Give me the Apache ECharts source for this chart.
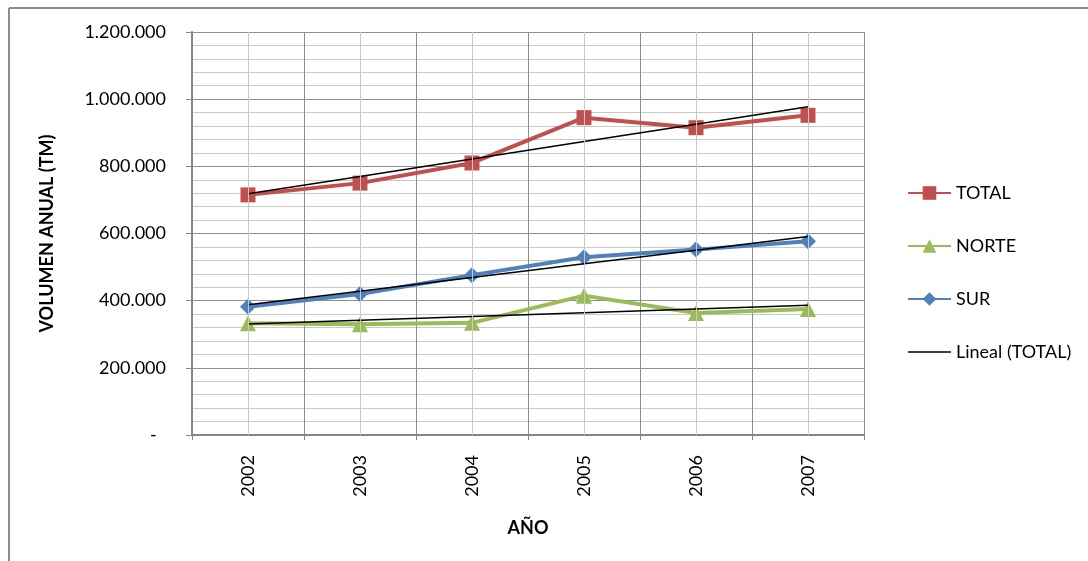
<!DOCTYPE html>
<html>
<head>
<meta charset="utf-8">
<script src="https://cdn.jsdelivr.net/npm/echarts@6/dist/echarts.min.js"></script>
<style>
  html, body { margin: 0; padding: 0; background: #ffffff; }
  #chart { width: 1088px; height: 561px; }
</style>
</head>
<body>
<div id="chart"></div>
<script>
// Volumen anual por zona (toneladas métricas)
const years = ['2002', '2003', '2004', '2005', '2006', '2007'];
const total = [715000, 750000, 810000, 945000, 915000, 952000];
const norte = [333000, 330000, 334000, 415000, 363000, 375000];
const sur   = [382000, 420000, 476000, 529000, 552000, 577000];
const yTicks = [0, 200000, 400000, 600000, 800000, 1000000, 1200000];

const FONT = 'Lato, "Liberation Sans", Arial, sans-serif';
const C_TOTAL = '#C0504D';
const C_NORTE = '#9BBB59';
const C_SUR = '#4F81BD';
const GRID_MAJOR = '#8e8e8e';
const GRID_MINOR = '#c9c9c9';

// Least-squares linear trend evaluated at every category
function linearTrend(values) {
  const n = values.length;
  const xs = values.map((_, i) => i + 1);
  const mx = xs.reduce((a, b) => a + b, 0) / n;
  const my = values.reduce((a, b) => a + b, 0) / n;
  let sxy = 0, sxx = 0;
  for (let i = 0; i < n; i++) {
    sxy += (xs[i] - mx) * (values[i] - my);
    sxx += (xs[i] - mx) * (xs[i] - mx);
  }
  const b = sxy / sxx;
  const a = my - b * mx;
  return xs.map(x => a + b * x);
}

function fmtMiles(v) {
  if (v === 0) return '-  ';
  return String(Math.round(v)).replace(/\B(?=(\d{3})+(?!\d))/g, '.');
}

const chart = echarts.init(document.getElementById('chart'), null, { renderer: 'canvas' });

const trendStyle = { color: '#000000', width: 1.5 };

chart.setOption({
  animation: false,
  backgroundColor: '#ffffff',
  textStyle: { fontFamily: FONT, color: '#000000' },
  grid: { left: 192, right: 224, top: 32, bottom: 126, containLabel: false },
  graphic: [
    { type: 'line', shape: { x1: 9, y1: 8, x2: 1088, y2: 8 }, style: { stroke: '#8c8c8c', lineWidth: 2 }, silent: true },
    { type: 'line', shape: { x1: 9, y1: 8, x2: 9, y2: 561 }, style: { stroke: '#8c8c8c', lineWidth: 2 }, silent: true }
  ],
  legend: {
    orient: 'vertical',
    left: 907,
    top: 184,
    padding: 0,
    itemWidth: 43,
    itemHeight: 17,
    itemGap: 35,
    symbolKeepAspect: true,
    textStyle: { fontFamily: FONT, fontSize: 18, color: '#000000' },
    data: [
      'TOTAL', 'NORTE', 'SUR',
      { name: 'Lineal (TOTAL)', icon: 'path://M0,0H43V1.5H0Z', itemStyle: { color: '#000000' } }
    ]
  },
  xAxis: {
    type: 'category',
    data: years,
    boundaryGap: true,
    name: 'AÑO',
    nameLocation: 'middle',
    nameGap: 84,
    nameTextStyle: { fontFamily: FONT, fontSize: 18, fontWeight: 'bold', color: '#000000' },
    axisLine: { lineStyle: { color: '#868686', width: 2 } },
    axisTick: { show: true, alignWithLabel: false, length: 5, lineStyle: { color: '#868686', width: 1 } },
    axisLabel: { rotate: 90, margin: 20, fontFamily: FONT, fontSize: 18, color: '#000000' },
    splitLine: { show: true, lineStyle: { color: GRID_MAJOR, width: 1 } }
  },
  yAxis: {
    type: 'value',
    min: yTicks[0],
    max: yTicks[yTicks.length - 1],
    interval: yTicks[1] - yTicks[0],
    name: 'VOLUMEN ANUAL (TM)',
    nameLocation: 'middle',
    nameGap: 136,
    nameTextStyle: { fontFamily: FONT, fontSize: 18, fontWeight: 'bold', color: '#000000' },
    axisLine: { show: true, lineStyle: { color: '#868686', width: 2 } },
    axisTick: { show: true, length: 6, lineStyle: { color: '#868686', width: 1 } },
    axisLabel: { margin: 26, fontFamily: FONT, fontSize: 18, color: '#000000', formatter: fmtMiles },
    splitLine: { show: true, lineStyle: { color: GRID_MAJOR, width: 1 } },
    minorTick: { show: false, splitNumber: 5 },
    minorSplitLine: { show: true, lineStyle: { color: GRID_MINOR, width: 1 } }
  },
  series: [
    {
      // vertical guide lines through each year
      name: 'guias',
      type: 'line',
      data: [],
      silent: true,
      z: 1,
      markLine: {
        silent: true,
        symbol: 'none',
        label: { show: false },
        lineStyle: { color: GRID_MINOR, width: 1, type: 'solid' },
        data: years.map(y => ({ xAxis: y }))
      }
    },
    {
      name: 'TOTAL', type: 'line', data: total, z: 3,
      symbol: 'rect', symbolSize: 15,
      lineStyle: { color: C_TOTAL, width: 4 },
      itemStyle: { color: C_TOTAL }
    },
    {
      name: 'NORTE', type: 'line', data: norte, z: 3,
      symbol: 'triangle', symbolSize: 16,
      lineStyle: { color: C_NORTE, width: 4 },
      itemStyle: { color: C_NORTE }
    },
    {
      name: 'SUR', type: 'line', data: sur, z: 3,
      symbol: 'diamond', symbolSize: 16,
      lineStyle: { color: C_SUR, width: 4 },
      itemStyle: { color: C_SUR }
    },
    {
      name: 'Lineal (TOTAL)', type: 'line', data: linearTrend(total), z: 4,
      symbol: 'none', lineStyle: trendStyle, itemStyle: { color: '#000000' }
    },
    {
      name: 'Lineal (NORTE)', type: 'line', data: linearTrend(norte), z: 4,
      symbol: 'none', lineStyle: trendStyle, itemStyle: { color: '#000000' }
    },
    {
      name: 'Lineal (SUR)', type: 'line', data: linearTrend(sur), z: 4,
      symbol: 'none', lineStyle: trendStyle, itemStyle: { color: '#000000' }
    }
  ]
});
</script>
</body>
</html>
